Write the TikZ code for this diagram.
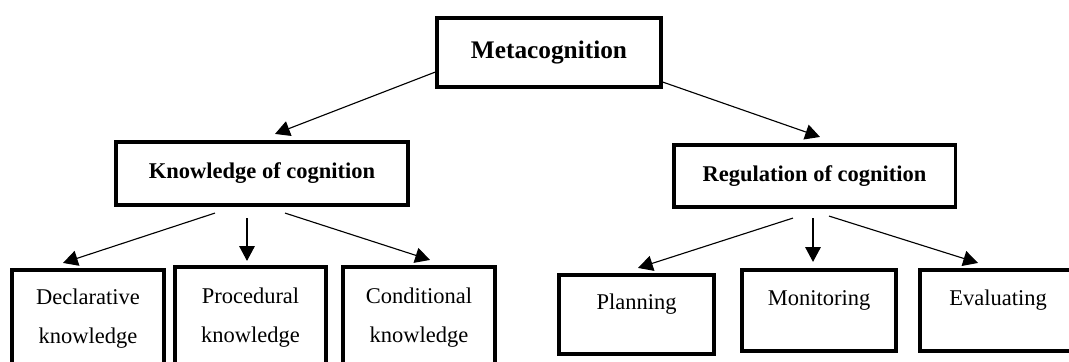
\documentclass[tikz,border=0pt]{standalone}
\usepackage{fontspec}
\setmainfont{Liberation Serif}
\usetikzlibrary{calc,arrows.meta}

\begin{document}
\begin{tikzpicture}[x=0.025cm,y=-0.025cm,
  caja/.style={draw, line width=2.2pt, inner sep=2pt, align=center, font=\fontsize{16pt}{27.7pt}\selectfont},
  titulo/.style={caja, font=\bfseries\fontsize{16pt}{19pt}\selectfont},
  hoja/.style={caja, text height=11pt, text depth=18pt},
  flecha/.style={-{Triangle[length=10.5pt,width=11pt]}, line width=0.8pt}]
\useasboundingbox (0,0) rectangle (1069,361);
% Metacognition
\node[titulo, font=\bfseries\fontsize{18pt}{21pt}\selectfont, minimum width=5.6cm, minimum height=1.725cm] (meta) at (549,52.5) {Metacognition};
% Ramas
\node[titulo, minimum width=7.3cm, minimum height=1.575cm] (know) at (262,173.5) {Knowledge of cognition};
\node[titulo, minimum width=7.025cm, minimum height=1.55cm] (reg) at (814.5,176) {Regulation of cognition};
% Hojas de Knowledge
\node[caja, minimum width=3.8cm, minimum height=2.425cm] (decl) at (88,318.5) {Declarative\\knowledge};
\node[caja, minimum width=3.775cm, minimum height=2.55cm] (proc) at (250.5,318) {Procedural\\knowledge};
\node[caja, minimum width=3.8cm, minimum height=2.55cm] (cond) at (419,318) {Conditional\\knowledge};
% Hojas de Regulation
\node[hoja, minimum width=3.875cm, minimum height=1.975cm] (plan) at (636.5,314.5) {Planning};
\node[hoja, minimum width=3.85cm, minimum height=2.025cm] (mon) at (819,310.5) {Monitoring};
\node[hoja, minimum width=3.9cm, minimum height=2.025cm] (eval) at (998,310.5) {Evaluating};
% Flechas de Metacognition
\draw[flecha] ($(meta.west)+(0,19.5)$) -- ($(know.north)+(13,-6.5)$);
\draw[flecha] ($(meta.east)+(0,29.5)$) -- ($(reg.north)+(5.5,-6.5)$);
% Flechas de Knowledge
\draw[flecha] ($(know.south)+(-47,6.5)$) -- ($(decl.north)+(-25,-5.5)$);
\draw[flecha] ($(know.south)+(-15,11.5)$) -- ($(proc.north)+(-3.5,-4.5)$);
\draw[flecha] ($(know.south)+(23,6.5)$) -- ($(cond.north)+(11,-5.5)$);
% Flechas de Regulation
\draw[flecha] ($(reg.south)+(-21.5,9.5)$) -- ($(plan.north)+(1.5,-5.5)$);
\draw[flecha] ($(reg.south)+(-1.5,9.5)$) -- ($(mon.north)+(-6,-6.5)$);
\draw[flecha] ($(reg.south)+(14.5,7.5)$) -- ($(eval.north)+(-20,-5.5)$);
\end{tikzpicture}
\end{document}
